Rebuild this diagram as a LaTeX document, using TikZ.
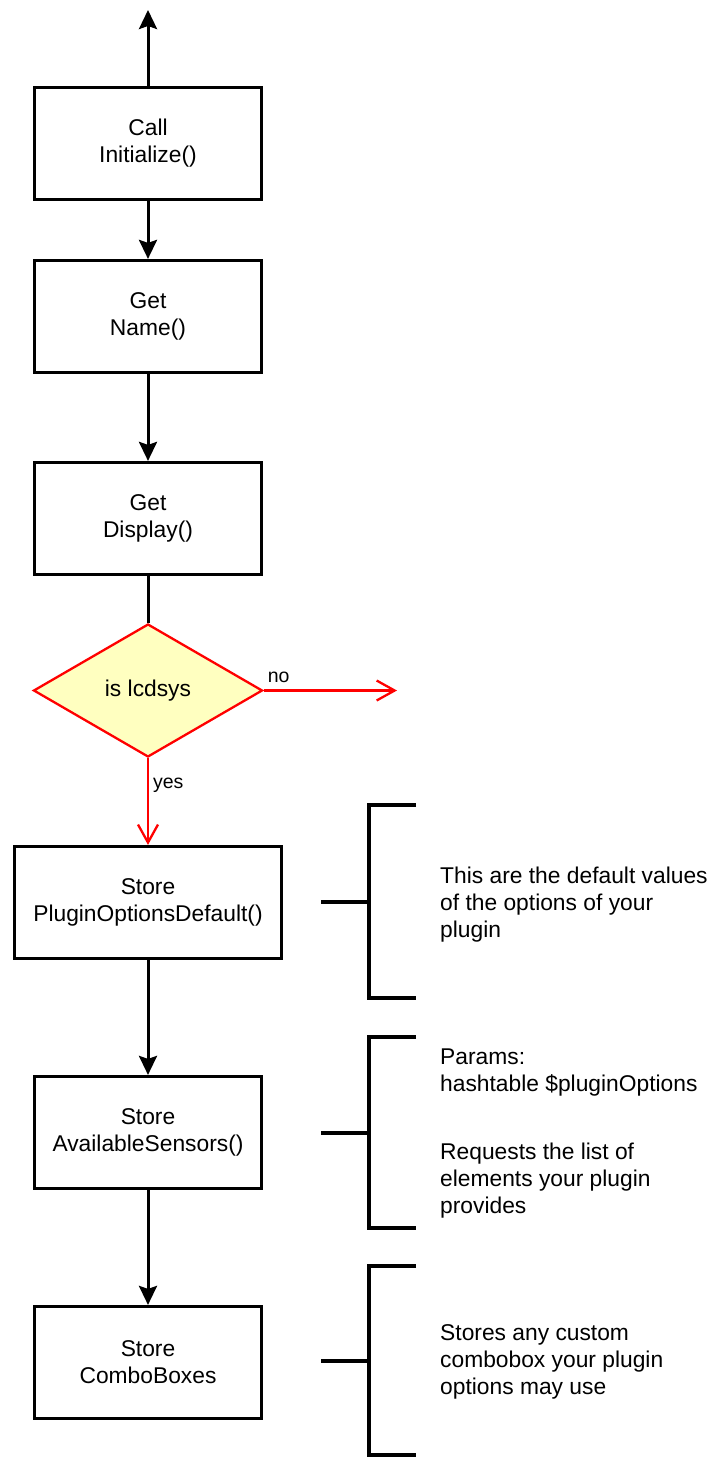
\documentclass[tikz,border=0pt]{standalone}
\usepackage{fontspec}
\setmainfont{Liberation Sans}
\usetikzlibrary{arrows.meta,shapes.geometric}
\definecolor{decisionfill}{RGB}{255,255,192}
\begin{document}
\begin{tikzpicture}[x=1pt,y=-1pt,
  stepbox/.style={draw, line width=2.7pt, rectangle, minimum width=227.5pt,
    minimum height=112.5pt, inner sep=0pt, align=center,
    font=\fontsize{22.8}{27}\selectfont},
  decision/.style={diamond, draw=red, fill=decisionfill, line width=2.3pt,
    minimum width=229pt, minimum height=133pt, inner sep=0pt,
    font=\fontsize{22.8}{27}\selectfont},
  flow/.style={line width=3pt, -{Stealth[length=19pt,width=18pt,inset=3pt]}},
  plainflow/.style={line width=3pt},
  redflow/.style={draw=red, line width=2.3pt, -{Straight Barb[length=18pt,width=20pt]}},
  branchlabel/.style={font=\fontsize{19.5}{23}\selectfont, inner sep=0pt, anchor=base west},
  bracket/.style={line width=3.5pt},
  note/.style={align=left, anchor=west, inner sep=0pt,
    font=\fontsize{22.8}{27}\selectfont}]
\fill[white] (0,0) rectangle (712,1457);
\useasboundingbox (0,0) rectangle (712,1457);

% main sequence of calls
\node[stepbox] (init) at (148,143.5) {Call\\Initialize()};
\node[stepbox] (name) at (148,316.5) {Get\\Name()};
\node[stepbox] (display) at (148,518.5) {Get\\Display()};
\node[decision] (islcd) at (148,690.5) {is lcdsys};
\node[stepbox, minimum width=267.5pt] (optdef) at (148,902.5) {Store\\PluginOptionsDefault()};
\node[stepbox] (sensors) at (148,1132.5) {Store\\AvailableSensors()};
\node[stepbox] (combo) at (148,1362.5) {Store\\ComboBoxes};

\coordinate (upend) at (148,10);
\coordinate (noend) at (397,690.5);

% connectors
\draw[flow] (init.north) -- (upend);
\draw[flow] (init.south) -- (name.north);
\draw[flow] (name.south) -- (display.north);
\draw[plainflow] (display.south) -- (islcd.north);
\draw[redflow] (islcd.east) -- node[branchlabel, pos=0, xshift=3pt, yshift=8.5pt] {no} (noend);
\draw[redflow] (islcd.south) -- node[branchlabel, pos=0, xshift=4pt, yshift=-30pt] {yes} (optdef.north);
\draw[flow] (optdef.south) -- (sensors.north);
\draw[flow] (sensors.south) -- (combo.north);

% annotation brackets
\draw[bracket] (416,805) -- (369,805) -- (369,998) -- (416,998);
\draw[bracket] (321,902) -- (369,902);
\draw[bracket] (416,1037) -- (369,1037) -- (369,1228) -- (416,1228);
\draw[bracket] (321,1133) -- (369,1133);
\draw[bracket] (416,1266) -- (369,1266) -- (369,1455) -- (416,1455);
\draw[bracket] (321,1361) -- (369,1361);

% annotation texts
\node[note] (note1) at (440,905) {This are the default values\\of the options of your\\plugin};
\node[note] (note2) at (440,1134) {Params:\\hashtable \$pluginOptions\\[41pt]Requests the list of\\elements your plugin\\provides};
\node[note] (note3) at (440,1362) {Stores any custom\\combobox your plugin\\options may use};
\end{tikzpicture}
\end{document}
